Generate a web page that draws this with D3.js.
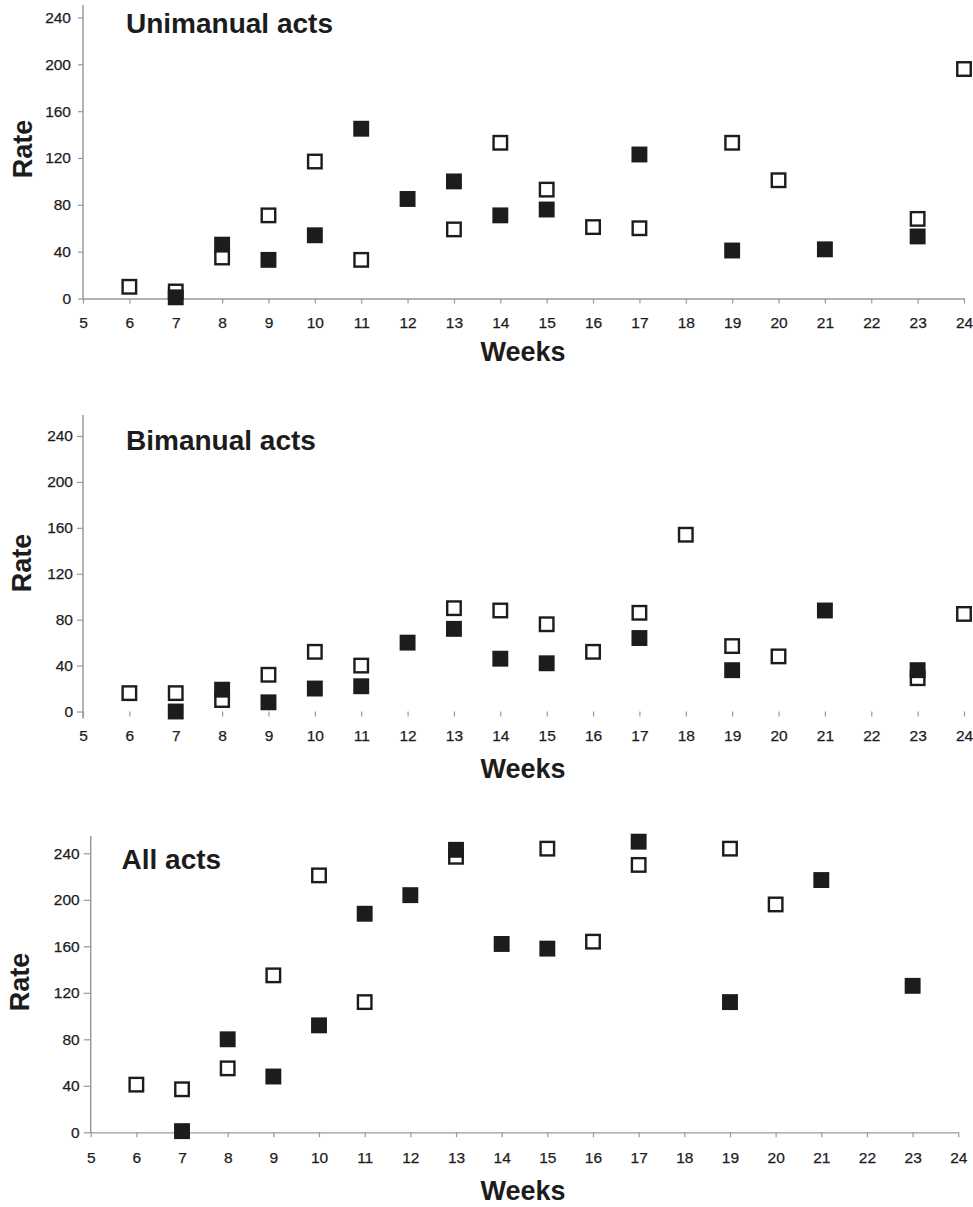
<!DOCTYPE html>
<html>
<head>
<meta charset="utf-8">
<script src="https://cdn.jsdelivr.net/npm/d3@7"></script>
<style>
  body { margin: 0; background: #fff; }
  svg { display: block; font-family: "Liberation Sans", Arial, sans-serif; }
</style>
</head>
<body>
<svg id="chart" width="973" height="1207"></svg>
<script>
// week ticks shared by the three panels
const weekTicks = d3.range(5, 25);
const rateTicks = [0, 40, 80, 120, 160, 200, 240];

// Unimanual acts
const uniOpenWeeks = [6, 7, 8, 9, 10, 11, 13, 14, 15, 16, 17, 19, 20, 23, 24];
const uniOpenRates = [10, 6, 35, 71, 117, 33, 59, 133, 93, 61, 60, 133, 101, 68, 196];
const uniFilledWeeks = [7, 8, 9, 10, 11, 12, 13, 14, 15, 17, 19, 21, 23];
const uniFilledRates = [1, 46, 33, 54, 145, 85, 100, 71, 76, 123, 41, 42, 53];

// Bimanual acts
const biOpenWeeks = [6, 7, 8, 9, 10, 11, 13, 14, 15, 16, 17, 18, 19, 20, 23, 24];
const biOpenRates = [16, 16, 10, 32, 52, 40, 90, 88, 76, 52, 86, 154, 57, 48, 29, 85];
const biFilledWeeks = [7, 8, 9, 10, 11, 12, 13, 14, 15, 17, 19, 21, 23];
const biFilledRates = [0, 19, 8, 20, 22, 60, 72, 46, 42, 64, 36, 88, 36];

// All acts
const allOpenWeeks = [6, 7, 8, 9, 10, 11, 13, 15, 16, 17, 19, 20];
const allOpenRates = [41, 37, 55, 135, 221, 112, 237, 244, 164, 230, 244, 196];
const allFilledWeeks = [7, 8, 9, 10, 11, 12, 13, 14, 15, 17, 19, 21, 23];
const allFilledRates = [1, 80, 48, 92, 188, 204, 243, 162, 158, 250, 112, 217, 126];

const ink = '#1c1c1c';
const axisGrey = '#9a9a9a';

const panels = [
  { title: 'Unimanual acts', open: [uniOpenWeeks, uniOpenRates], filled: [uniFilledWeeks, uniFilledRates],
    x0: 83, x1: 964, y0: 298.5, y240: 17.5, top: 5, xLine: true,
    titleX: 126, titleY: 33, rateX: 32, rateY: 149,
    ytSize: 5, ytPad: 7, xtPad: 13.5, weeksY: 361 },
  { title: 'Bimanual acts', open: [biOpenWeeks, biOpenRates], filled: [biFilledWeeks, biFilledRates],
    x0: 83, x1: 964, y0: 711.5, y240: 436, top: 415, xLine: false,
    titleX: 126, titleY: 450, rateX: 31, rateY: 563,
    ytSize: 6, ytPad: 4, xtPad: 13.7, weeksY: 778 },
  { title: 'All acts', open: [allOpenWeeks, allOpenRates], filled: [allFilledWeeks, allFilledRates],
    x0: 90.7, x1: 958.3, y0: 1132.3, y240: 853.3, top: 836, xLine: true,
    titleX: 121.5, titleY: 869, rateX: 29, rateY: 982,
    ytSize: 7, ytPad: 4, xtPad: 14.4, weeksY: 1200 }
];

const svg = d3.select('#chart');

panels.forEach(p => {
  const x = d3.scaleLinear().domain([5, 24]).range([p.x0, p.x1]);
  const y = d3.scaleLinear().domain([0, 240]).range([p.y0, p.y240]);
  const g = svg.append('g');

  // x axis
  const xg = g.append('g')
    .attr('transform', `translate(0,${y(0)})`)
    .call(d3.axisBottom(x).tickValues(weekTicks).tickFormat(d3.format('d'))
      .tickSize(5).tickSizeOuter(0).tickPadding(p.xtPad));
  xg.select('.domain').attr('stroke', axisGrey).attr('stroke-width', 1.3)
    .style('display', p.xLine ? null : 'none');
  xg.selectAll('.tick line').attr('stroke', axisGrey).attr('stroke-width', 1.2);
  xg.selectAll('.tick text').attr('fill', ink).style('font-size', '15.5px')
    .attr('stroke', ink).attr('stroke-width', 0.25);

  // y axis
  const yg = g.append('g')
    .attr('transform', `translate(${x(5)},0)`)
    .call(d3.axisLeft(y).tickValues(rateTicks)
      .tickSize(p.ytSize).tickSizeOuter(0).tickPadding(p.ytPad));
  yg.select('.domain').remove();
  yg.selectAll('.tick line').attr('stroke', axisGrey).attr('stroke-width', 1.2);
  yg.selectAll('.tick text').attr('fill', ink).style('font-size', '15.5px')
    .attr('stroke', ink).attr('stroke-width', 0.25);
  yg.append('line')
    .attr('x1', 0).attr('x2', 0)
    .attr('y1', y(0) + (p.xLine ? 1 : 7)).attr('y2', p.top)
    .attr('stroke', axisGrey).attr('stroke-width', 1.5);

  // labels
  g.append('text').attr('x', p.titleX).attr('y', p.titleY)
    .attr('fill', ink).style('font-size', '28px').style('font-weight', 'bold')
    .text(p.title);
  g.append('text')
    .attr('transform', `translate(${p.rateX},${p.rateY}) rotate(-90)`)
    .attr('text-anchor', 'middle')
    .attr('fill', ink).style('font-size', '27px').style('font-weight', 'bold')
    .text('Rate');
  g.append('text').attr('x', 523).attr('y', p.weeksY)
    .attr('text-anchor', 'middle')
    .attr('fill', ink).style('font-size', '27px').style('font-weight', 'bold')
    .text('Weeks');

  // open squares first, filled drawn over them
  const size = 13.5;
  const openData = p.open[0].map((w, i) => ({ w, v: p.open[1][i] }));
  const filledData = p.filled[0].map((w, i) => ({ w, v: p.filled[1][i] }));

  g.append('g').selectAll('rect')
    .data(openData)
    .join('rect')
    .attr('x', d => x(d.w) - size / 2)
    .attr('y', d => y(d.v) - size / 2)
    .attr('width', size).attr('height', size)
    .attr('fill', '#fff').attr('stroke', ink).attr('stroke-width', 2.4);

  g.append('g').selectAll('rect')
    .data(filledData)
    .join('rect')
    .attr('x', d => x(d.w) - (size + 2.4) / 2)
    .attr('y', d => y(d.v) - (size + 2.4) / 2)
    .attr('width', size + 2.4).attr('height', size + 2.4)
    .attr('fill', ink);
});
</script>
</body>
</html>
